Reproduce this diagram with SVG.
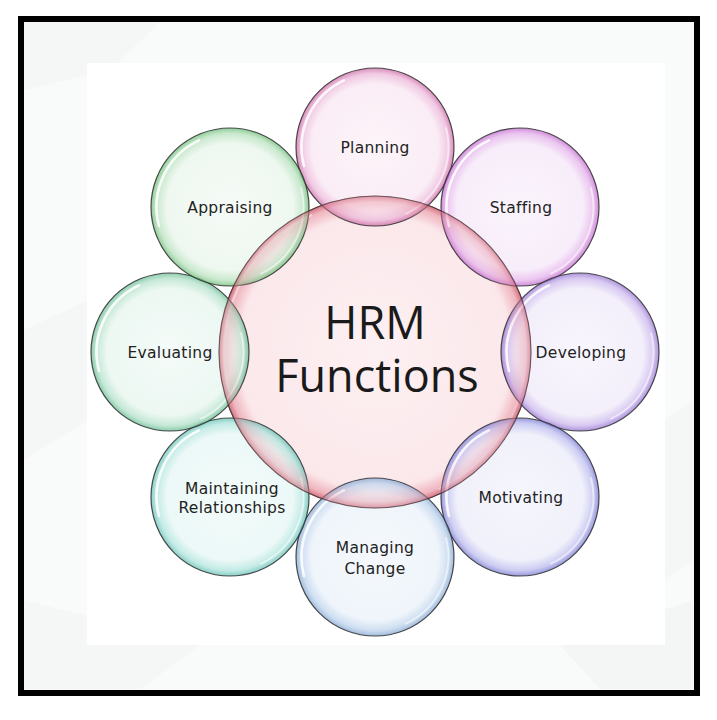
<svg xmlns="http://www.w3.org/2000/svg" xmlns:xlink="http://www.w3.org/1999/xlink" width="717" height="720" viewBox="0 0 717 720">
<defs>
<style>
.bubble{stroke:#2e2e2e;stroke-width:1.2;stroke-opacity:0.85;fill-opacity:0.72}
.center{stroke:#3a2a2c;stroke-width:1.2;stroke-opacity:0.8}
.rim{stroke:#3a2a2c;stroke-width:1.1;stroke-opacity:0.65}
.hl{fill:none;stroke:#ffffff;stroke-width:2.6;stroke-linecap:round;stroke-opacity:0.85}
.hl2{fill:none;stroke:#ffffff;stroke-width:2;stroke-linecap:round;stroke-opacity:0.55}
.lbl{font-family:"DejaVu Sans","Verdana",sans-serif;font-size:15.5px;letter-spacing:0.3px;fill:#222222;text-anchor:middle}
.title{font-family:"Open Sans","Noto Sans",sans-serif;font-size:45px;fill:#1a1a1a;text-anchor:middle}
</style>
<radialGradient id="gPlan"><stop offset="0" stop-color="#fcf0f7"/><stop offset="0.8" stop-color="#f9e6f2"/><stop offset="0.93" stop-color="#eab4d8"/><stop offset="1" stop-color="#c9629f"/></radialGradient>
<radialGradient id="gStaf"><stop offset="0" stop-color="#f9f0fb"/><stop offset="0.8" stop-color="#f5e6f8"/><stop offset="0.93" stop-color="#e3b0ea"/><stop offset="1" stop-color="#bf63cc"/></radialGradient>
<radialGradient id="gDev"><stop offset="0" stop-color="#f5f2fc"/><stop offset="0.8" stop-color="#efe9f9"/><stop offset="0.93" stop-color="#c9b5ec"/><stop offset="1" stop-color="#8f6ccf"/></radialGradient>
<radialGradient id="gMot"><stop offset="0" stop-color="#f2f2fc"/><stop offset="0.8" stop-color="#ebebf9"/><stop offset="0.93" stop-color="#b9b9ee"/><stop offset="1" stop-color="#7373cf"/></radialGradient>
<radialGradient id="gMan"><stop offset="0" stop-color="#f1f6fc"/><stop offset="0.8" stop-color="#e9f1f9"/><stop offset="0.93" stop-color="#bcd2ec"/><stop offset="1" stop-color="#7fa3cf"/></radialGradient>
<radialGradient id="gMai"><stop offset="0" stop-color="#eefaf9"/><stop offset="0.8" stop-color="#e4f6f4"/><stop offset="0.93" stop-color="#ace3dc"/><stop offset="1" stop-color="#5cbdb1"/></radialGradient>
<radialGradient id="gEva"><stop offset="0" stop-color="#f0f9f5"/><stop offset="0.8" stop-color="#e6f5ee"/><stop offset="0.93" stop-color="#b0e0c8"/><stop offset="1" stop-color="#5fb98e"/></radialGradient>
<radialGradient id="gApp"><stop offset="0" stop-color="#f2f9f3"/><stop offset="0.8" stop-color="#e8f5ea"/><stop offset="0.93" stop-color="#b5e0bb"/><stop offset="1" stop-color="#66ba72"/></radialGradient>
<radialGradient id="gCen"><stop offset="0" stop-color="#fdf0f2"/><stop offset="0.88" stop-color="#fbe8eb"/><stop offset="0.96" stop-color="#f2c3ca"/><stop offset="1" stop-color="#d9808e"/></radialGradient>
<radialGradient id="gCenRim"><stop offset="0" stop-color="#f4b8c2" stop-opacity="0"/><stop offset="0.86" stop-color="#f4b8c2" stop-opacity="0"/><stop offset="0.96" stop-color="#eaa0ac" stop-opacity="0.35"/><stop offset="1" stop-color="#d46f80" stop-opacity="0.6"/></radialGradient>
<g id="hlSmall">
<path class="hl" d="M -71 18.9 A 73.5 73.5 0 0 1 -31.1 -66.6"/>
<path class="hl2" d="M 71 -18.9 A 73.5 73.5 0 0 1 31.1 66.6"/>
</g>
<g id="hlBig">
<path class="hl" d="M -146 39 A 151 151 0 0 1 -64 -137" stroke-opacity="0.6"/>
<path class="hl2" d="M 146 -39 A 151 151 0 0 1 64 137"/>
</g>
</defs>

<g id="background">
<rect x="0" y="0" width="717" height="720" fill="#ffffff"/>
<rect x="21" y="19" width="676" height="674" fill="#f9fafa"/>
<polygon points="24,22 160,22 110,70 24,90" fill="#f5f6f6"/>
<polygon points="24,330 88,300 88,420 24,460" fill="#f5f6f6"/>
<polygon points="665,420 693,400 693,560 665,580" fill="#f5f6f6"/>
<polygon points="560,645 693,600 693,689 600,689" fill="#f4f5f5"/>
<polygon points="24,600 200,645 140,689 24,689" fill="#f5f6f6"/>
<rect x="87" y="63" width="578" height="582" fill="#ffffff"/>
<rect x="21" y="19" width="676" height="674" fill="none" stroke="#000000" stroke-width="6"/>
</g>

<g id="hrm-functions">
<circle class="center" cx="375" cy="352" r="156" fill="url(#gCen)"/>
<use xlink:href="#hlBig" transform="translate(375 352)"/>
</g>

<g id="connectors"></g>

<g id="planning">
<circle class="bubble" cx="375" cy="147" r="79" fill="url(#gPlan)"/>
<use xlink:href="#hlSmall" transform="translate(375 147)"/>
</g>

<g id="staffing">
<circle class="bubble" cx="520" cy="207" r="79" fill="url(#gStaf)"/>
<use xlink:href="#hlSmall" transform="translate(520 207)"/>
</g>

<g id="developing">
<circle class="bubble" cx="580" cy="352" r="79" fill="url(#gDev)"/>
<use xlink:href="#hlSmall" transform="translate(580 352)"/>
</g>

<g id="motivating">
<circle class="bubble" cx="520" cy="497" r="79" fill="url(#gMot)"/>
<use xlink:href="#hlSmall" transform="translate(520 497)"/>
</g>

<g id="managing-change">
<circle class="bubble" cx="375" cy="557" r="79" fill="url(#gMan)"/>
<use xlink:href="#hlSmall" transform="translate(375 557)"/>
</g>

<g id="maintaining-relationships">
<circle class="bubble" cx="230" cy="497" r="79" fill="url(#gMai)"/>
<use xlink:href="#hlSmall" transform="translate(230 497)"/>
</g>

<g id="evaluating">
<circle class="bubble" cx="170" cy="352" r="79" fill="url(#gEva)"/>
<use xlink:href="#hlSmall" transform="translate(170 352)"/>
</g>

<g id="appraising">
<circle class="bubble" cx="230" cy="207" r="79" fill="url(#gApp)"/>
<use xlink:href="#hlSmall" transform="translate(230 207)"/>
</g>

<g id="center-rim-overlay">
<circle class="rim" cx="375" cy="352" r="156" fill="url(#gCenRim)"/>
</g>

<g id="labels">
<text class="title" x="375" y="339">HRM</text>
<text class="title" x="377" y="392">Functions</text>
<text class="lbl" x="375" y="153">Planning</text>
<text class="lbl" x="521" y="213">Staffing</text>
<text class="lbl" x="581" y="358">Developing</text>
<text class="lbl" x="521" y="503">Motivating</text>
<text class="lbl" x="375" y="553">Managing</text>
<text class="lbl" x="375" y="574">Change</text>
<text class="lbl" x="232" y="494">Maintaining</text>
<text class="lbl" x="232" y="513">Relationships</text>
<text class="lbl" x="170" y="358">Evaluating</text>
<text class="lbl" x="230" y="213">Appraising</text>
</g>
</svg>
